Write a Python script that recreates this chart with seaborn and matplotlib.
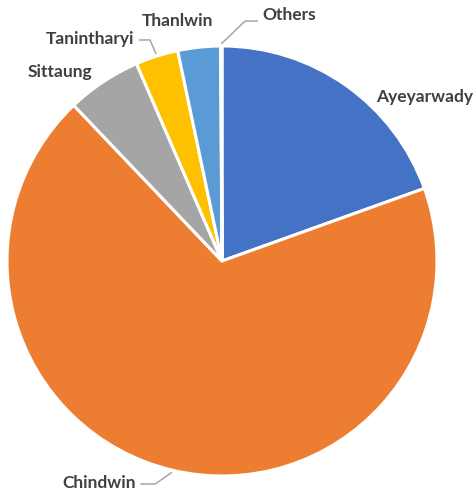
import numpy as np
import pandas as pd
import seaborn as sns
import matplotlib
matplotlib.use("Agg")
import matplotlib.pyplot as plt

sns.set_theme(style="white")
plt.rcParams['font.family'] = ['Lato', 'DejaVu Sans']

# River basin shares (%)
basins = ["Ayeyarwady", "Chindwin", "Sittaung", "Tanintharyi", "Thanlwin", "Others"]
shares = [19.5, 68.3, 5.6, 3.2, 3.2, 0.1]
colors = ["#4472C4", "#ED7D31", "#A5A5A5", "#FFC000", "#5B9BD5", "#70AD47"]

df = pd.DataFrame({"basin": basins, "share": shares, "color": colors})

W, H = 475, 493
fig = plt.figure(figsize=(W / 100, H / 100), dpi=100)
cx, cy, r = 222, 261, 215
ax = fig.add_axes([(cx - r) / W, (H - cy - r) / H, 2 * r / W, 2 * r / H])

wedges, _ = ax.pie(df["share"], colors=df["color"], startangle=90, counterclock=False,
                   radius=1.0, wedgeprops=dict(edgecolor="white", linewidth=2.2))
ax.set_xlim(-1, 1)
ax.set_ylim(-1, 1)
ax.set_aspect("equal")
ax.axis("off")

def mid_point(w, rad=1.0):
    ang = np.deg2rad((w.theta1 + w.theta2) / 2)
    return rad * np.cos(ang), rad * np.sin(ang)

text_kw = dict(fontsize=12.5, fontweight="bold", color="#404040", clip_on=False)
line_kw = dict(color="#A6A6A6", lw=1.1, clip_on=False, solid_capstyle="butt")

# label placement: (text x, text y, ha, leader knee, leader end) in axis units
labels = {
    "Ayeyarwady": (0.942, 0.763, "center", None, None),
    "Chindwin": (-0.40, -1.033, "right", (-0.31, -1.037), (-0.38, -1.037)),
    "Sittaung": (-0.754, 0.879, "center", None, None),
    "Tanintharyi": (-0.408, 1.033, "right", (-0.335, 1.028), (-0.386, 1.028)),
    "Thanlwin": (-0.205, 1.116, "center", None, None),
    "Others": (0.186, 1.144, "left", (0.107, 1.116), (0.167, 1.116)),
}

for w, name in zip(wedges, df["basin"]):
    tx, ty, ha, knee, end = labels[name]
    ax.text(tx, ty, name, ha=ha, va="center", **text_kw)
    if knee is not None:
        sx, sy = mid_point(w, 1.01)
        ax.plot([sx, knee[0], end[0]], [sy, knee[1], end[1]], **line_kw)

fig.savefig("out.png", dpi=100, facecolor="white")
